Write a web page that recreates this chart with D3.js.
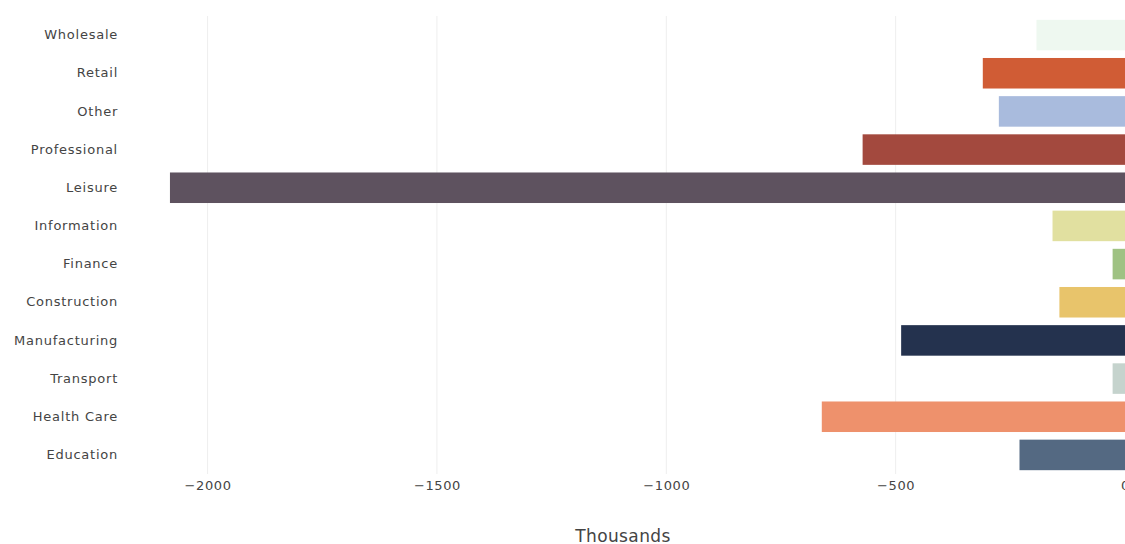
<!DOCTYPE html>
<html><head><meta charset="utf-8">
<script src="https://cdn.jsdelivr.net/npm/d3@7/dist/d3.min.js"></script>
<style>body{margin:0;background:#fff;}svg{display:block;}</style>
</head><body>
<svg id="chart" width="1125" height="544"></svg>
<script>
const categories = ["Wholesale","Retail","Other","Professional","Leisure","Information","Finance","Construction","Manufacturing","Transport","Health Care","Education"];
const values = [-193,-310,-275,-572,-2082,-158,-27,-143,-488,-27,-661,-230];
const colors = ["#eef8f0","#d05c35","#a9bbdd","#a3493e","#5e525f","#e1e0a0","#9fc283","#e8c46b","#24324e","#c5d3cd","#ee916c","#546982"];
const xTicks = [-2000,-1500,-1000,-500,0];
const xTitle = "Thousands";

(function(){
const svg = d3.select("#chart");
const mLeft = 125, mRight = 1125, mTop = 16, mBottom = 474;
const x = d3.scaleLinear().domain([-2180, 0]).range([mLeft, mRight]);
const y = d3.scaleBand().domain(categories).range([mTop, mBottom]).paddingInner(0.2).paddingOuter(0.1);

const font = "'DejaVu Sans', Verdana, sans-serif";

// gridlines
svg.append("g").selectAll("line").data(xTicks.filter(d => d !== 0)).join("line")
  .attr("x1", d => x(d)).attr("x2", d => x(d))
  .attr("y1", mTop).attr("y2", mBottom)
  .attr("stroke", "#eeeeee").attr("stroke-width", 1);

// bars
svg.append("g").selectAll("rect").data(categories).join("rect")
  .attr("x", (d, i) => x(values[i]))
  .attr("width", (d, i) => x(0) - x(values[i]))
  .attr("y", d => y(d))
  .attr("height", y.bandwidth())
  .attr("fill", (d, i) => colors[i]);

// x axis
const xAxis = d3.axisBottom(x).tickValues(xTicks).tickSize(0).tickPadding(0)
  .tickFormat(d => d === 0 ? "0" : "\u2212" + Math.abs(d));
const gx = svg.append("g").attr("transform", `translate(0,${490})`).call(xAxis);
gx.select(".domain").remove();
gx.selectAll("text").attr("font-family", font).attr("font-size", 13).attr("letter-spacing", 0.6)
  .attr("fill", "#444").attr("dy", 0).attr("y", 0);

// y axis
const yAxis = d3.axisLeft(y).tickSize(0).tickPadding(0);
const gy = svg.append("g").attr("transform", `translate(${118},0)`).call(yAxis);
gy.select(".domain").remove();
gy.selectAll("text").attr("font-family", font).attr("font-size", 13).attr("letter-spacing", 0.75).attr("fill", "#444");

// title
svg.append("text").attr("x", (mLeft + mRight) / 2 - 2).attr("y", 542)
  .attr("text-anchor", "middle").attr("font-family", font).attr("font-size", 17).attr("letter-spacing", 0.4)
  .attr("fill", "#444").text(xTitle);
})();
</script>
</body></html>
